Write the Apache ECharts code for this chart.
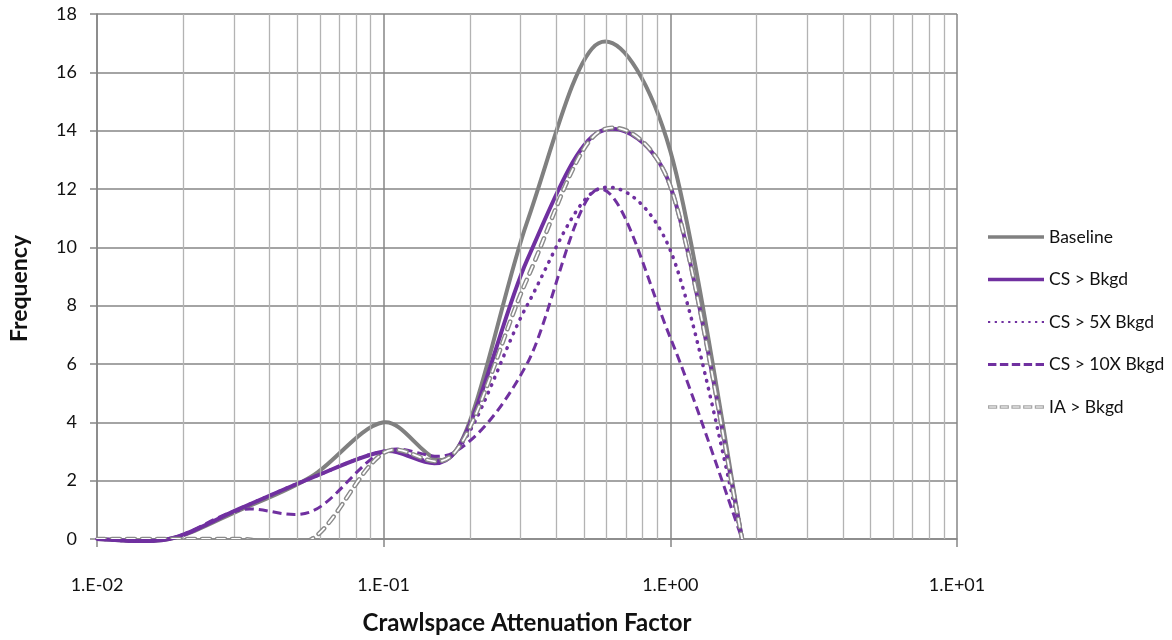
<!DOCTYPE html>
<html>
<head>
<meta charset="utf-8">
<script src="https://cdn.jsdelivr.net/npm/echarts@6/dist/echarts.min.js"></script>
<style>
  html, body { margin: 0; padding: 0; background: #ffffff; }
  #chart { width: 1172px; height: 640px; }
</style>
</head>
<body>
<div id="chart"></div>
<script>
// ---- data (quarter-decade bins) ----
const xValues   = [0.01, 0.0178, 0.0316, 0.0562, 0.1,  0.178, 0.316, 0.562, 1.0,  1.78];
const baseline  = [0,    0,      1.0,    2.15,   4.0,  3.0,   10.85, 17.0,  13.3, 0];
const csBkgd    = [0,    0,      1.05,   2.1,    3.0,  3.0,   9.55,  13.95, 12.1, 0];
const cs5xBkgd  = [0,    0,      1.05,   2.1,    3.0,  3.0,   8.0,   12.0,  9.9,  0];
const cs10xBkgd = [0,    0,      1.0,    0.95,   3.0,  3.0,   6.0,   12.0,  6.9,  0];
const iaBkgd    = [0,    0,      0,      0,      2.95, 3.0,   8.9,   13.95, 12.1, 0];
const seriesNames = ['Baseline', 'CS > Bkgd', 'CS > 5X Bkgd', 'CS > 10X Bkgd', 'IA > Bkgd'];
const xTickLabels = ['1.E-02', '1.E-01', '1.E+00', '1.E+01'];
const yTickMax = 18;
const yTickStep = 2;
// ------------------------------------------------------------

const pairs = arr => xValues.map((x, i) => [x, arr[i]]);

// minor log grid positions (2..9 of each decade)
const minorGrid = [];
[0.01, 0.1, 1].forEach(d => { for (let k = 2; k <= 9; k++) minorGrid.push({ xAxis: +(d * k).toPrecision(3) }); });

const FONT = 'Lato, "Open Sans", sans-serif';
const PURPLE = '#7030A0';
const GRAY = '#808080';

// Spreadsheet-style smoothed curve: cubic Bezier through the projected points
function smoothPath(pts) {
  const n = pts.length;
  const ctrl = (i, dir) => {
    const p = pts[i];
    const prev = pts[Math.max(i - 1, 0)];
    const next = pts[Math.min(i + 1, n - 1)];
    let cx = (next[0] - prev[0]) / 6 * dir;
    let cy = (next[1] - prev[1]) / 6 * dir;
    const nb = pts[i + dir];
    const segLen = Math.hypot(nb[0] - p[0], nb[1] - p[1]);
    const cLen = Math.hypot(cx, cy);
    const maxLen = 0.5 * segLen;
    if (cLen > maxLen && cLen > 0) { const s = maxLen / cLen; cx *= s; cy *= s; }
    return [p[0] + cx, p[1] + cy];
  };
  let d = 'M' + pts[0][0] + ',' + pts[0][1];
  for (let i = 0; i < n - 1; i++) {
    const c1 = ctrl(i, 1), c2 = ctrl(i + 1, -1), p = pts[i + 1];
    d += ' C' + c1[0] + ',' + c1[1] + ' ' + c2[0] + ',' + c2[1] + ' ' + p[0] + ',' + p[1];
  }
  return d;
}

function curveSeries(name, values, color, strokes, z, clip) {
  return {
    name: name,
    type: 'custom',
    coordinateSystem: 'cartesian2d',
    data: pairs(values),
    encode: { x: 0, y: 1 },
    clip: clip,
    z: z,
    silent: true,
    itemStyle: { color: color },
    renderItem: function (params, api) {
      if (params.dataIndex !== 0) return null;
      const pts = xValues.map((x, i) => api.coord([x, values[i]]));
      const d = smoothPath(pts);
      return {
        type: 'group',
        children: strokes.map(s => ({
          type: 'path',
          shape: { pathData: d },
          style: Object.assign({ fill: 'none', lineJoin: 'round' }, s)
        }))
      };
    }
  };
}

// legend icons (line samples)
function dashesIcon(len, gap, h, count) {
  let p = 'path://';
  for (let k = 0; k < count; k++) { const x = k * (len + gap); p += 'M' + x + ',0H' + (x + len) + 'V' + h + 'H' + x + 'Z'; }
  return p;
}
function hollowDashesIcon(len, gap, h, count) {
  let p = 'path://';
  for (let k = 0; k < count; k++) {
    const x = k * (len + gap);
    p += 'M' + x + ',0H' + (x + len) + 'V' + h + 'H' + x + 'Z';
    p += 'M' + (x + 1.2) + ',1.2V' + (h - 1.2) + 'H' + (x + len - 1.2) + 'V1.2Z';
  }
  return p;
}
const legendItems = [
  { name: seriesNames[0], icon: 'path://M0,0H56V3.4H0Z' },
  { name: seriesNames[1], icon: 'path://M0,0H56V3.4H0Z' },
  { name: seriesNames[2], icon: dashesIcon(2.2, 4.43, 2.2, 9) },
  { name: seriesNames[3], icon: dashesIcon(8.4, 3.5, 3.2, 5) },
  { name: seriesNames[4], icon: hollowDashesIcon(9.2, 2.5, 3.6, 5), itemStyle: { color: '#a6a6a6' } }
];

const chart = echarts.init(document.getElementById('chart'), null, { renderer: 'canvas' });
chart.setOption({
  animation: false,
  backgroundColor: '#ffffff',
  textStyle: { fontFamily: FONT },
  grid: { left: 96, right: 215, top: 14, bottom: 91, containLabel: false },
  legend: {
    orient: 'vertical',
    left: 983,
    top: 223,
    itemWidth: 56,
    itemHeight: 14,
    itemGap: 24.5,
    data: legendItems,
    textStyle: { fontFamily: FONT, fontSize: 17.5, color: '#111' }
  },
  xAxis: {
    type: 'log',
    logBase: 10,
    min: 0.01,
    max: 10,
    name: 'Crawlspace Attenuation Factor',
    nameLocation: 'middle',
    nameGap: 72,
    nameTextStyle: { fontFamily: FONT, fontSize: 24, fontWeight: 'bold', color: '#111' },
    axisLine: { show: true, lineStyle: { color: '#868686', width: 1.5 } },
    axisTick: { show: true, length: 8, lineStyle: { color: '#868686', width: 1.5 } },
    axisLabel: {
      margin: 37,
      fontSize: 18,
      color: '#111',
      fontFamily: FONT,
      formatter: v => {
        const e = Math.round(Math.log10(v));
        return xTickLabels[e + 2] || '';
      }
    },
    splitLine: { show: true, lineStyle: { color: '#868686', width: 1.5 } }
  },
  yAxis: {
    type: 'value',
    min: 0,
    max: yTickMax,
    interval: yTickStep,
    name: 'Frequency',
    nameLocation: 'middle',
    nameRotate: 90,
    nameGap: 66,
    nameTextStyle: { fontFamily: FONT, fontSize: 23, fontWeight: 'bold', color: '#111', padding: [0, 24, 0, 0] },
    axisLine: { show: true, lineStyle: { color: '#868686', width: 1.5 } },
    axisTick: { show: true, inside: false, length: 7, lineStyle: { color: '#868686', width: 1.5 } },
    axisLabel: { margin: 20, fontSize: 18, color: '#111', fontFamily: FONT },
    splitLine: { show: true, lineStyle: { color: '#868686', width: 1.5 } }
  },
  series: [
    {
      name: '__minorgrid',
      type: 'line',
      data: [],
      z: 1,
      silent: true,
      markLine: {
        silent: true,
        symbol: ['none', 'none'],
        label: { show: false },
        emphasis: { disabled: true },
        lineStyle: { color: '#b3b3b3', width: 1.3, type: 'solid' },
        data: minorGrid
      }
    },
    curveSeries(seriesNames[0], baseline, GRAY,
      [{ stroke: GRAY, lineWidth: 4 }], 3, false),
    curveSeries(seriesNames[1], csBkgd, PURPLE,
      [{ stroke: PURPLE, lineWidth: 4 }], 4, false),
    curveSeries(seriesNames[2], cs5xBkgd, PURPLE,
      [{ stroke: PURPLE, lineWidth: 3.6, lineDash: [0.5, 7.5], lineCap: 'round' }], 5, false),
    curveSeries(seriesNames[3], cs10xBkgd, PURPLE,
      [{ stroke: PURPLE, lineWidth: 3, lineDash: [9, 5] }], 6, false),
    curveSeries(seriesNames[4], iaBkgd, '#8a8a8a',
      [{ stroke: '#8a8a8a', lineWidth: 4.6, lineDash: [8, 7], lineCap: 'round' },
       { stroke: '#ffffff', lineWidth: 1.8, lineDash: [8, 7], lineCap: 'round' }], 7, true)
  ]
});
</script>
</body>
</html>
